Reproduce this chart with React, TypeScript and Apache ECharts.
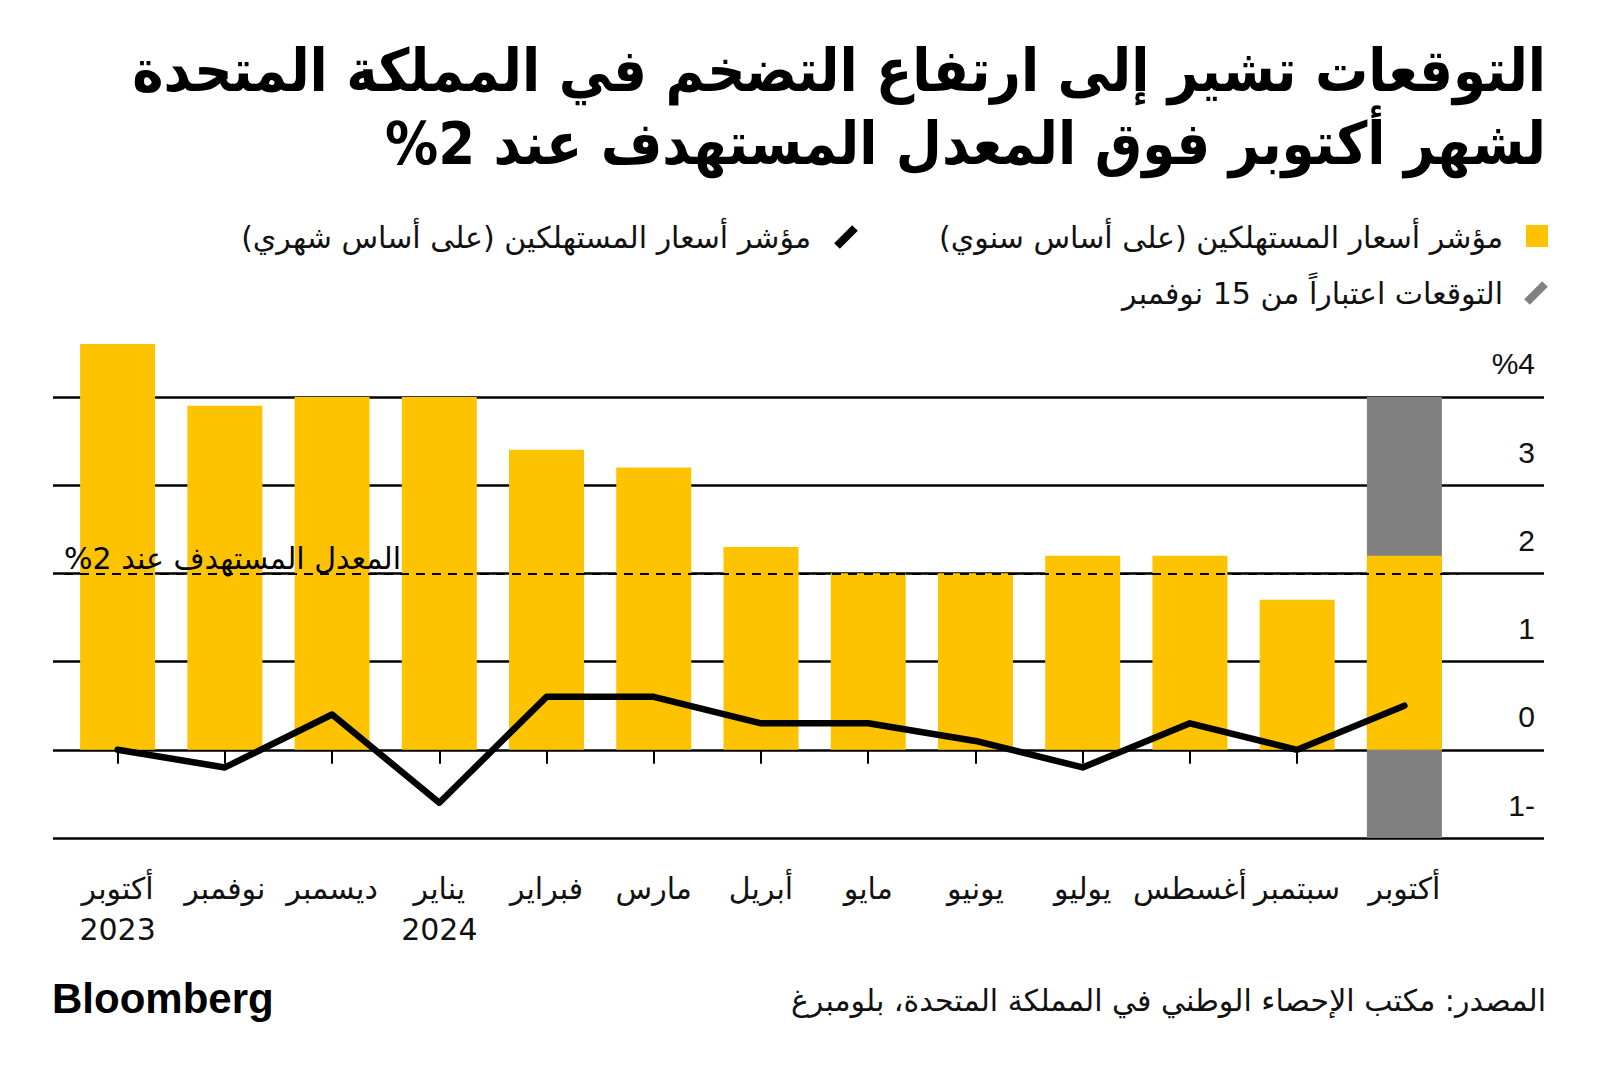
import React, { useEffect, useRef } from "react";
import * as echarts from "echarts";

const RLE = "\u202B";
const PDF = "\u202C";
const rtl = (s: string) => RLE + s + PDF;

const titleLines = [
  "التوقعات تشير إلى ارتفاع التضخم في المملكة المتحدة",
  "لشهر أكتوبر فوق المعدل المستهدف عند 2%",
];
const legendYoY = "مؤشر أسعار المستهلكين (على أساس سنوي)";
const legendMoM = "مؤشر أسعار المستهلكين (على أساس شهري)";
const legendForecast = "التوقعات اعتباراً من 15 نوفمبر";
const targetLabel = "المعدل المستهدف عند 2%";
const sourceText = "المصدر: مكتب الإحصاء الوطني في المملكة المتحدة، بلومبرغ";

const months = [
  "أكتوبر\n2023",
  "نوفمبر",
  "ديسمبر",
  "يناير\n2024",
  "فبراير",
  "مارس",
  "أبريل",
  "مايو",
  "يونيو",
  "يوليو",
  "أغسطس",
  "سبتمبر",
  "أكتوبر",
];
const cpiYoY = [4.6, 3.9, 4.0, 4.0, 3.4, 3.2, 2.3, 2.0, 2.0, 2.2, 2.2, 1.7, 2.2];
const cpiMoM = [0.0, -0.2, 0.4, -0.6, 0.6, 0.6, 0.3, 0.3, 0.1, -0.2, 0.3, 0.0, 0.5];
const forecastLow = [null, null, null, null, null, null, null, null, null, null, null, null, -1];
const forecastHigh = [null, null, null, null, null, null, null, null, null, null, null, null, 4];
const yMin = -1;
const yMax = 4.6;
const targetRate = 2;

const YELLOW = "#FDC300";
const GRAY = "#808080";
const AR_FONT = "'DejaVu Sans', sans-serif";
const TITLE_FONT = "'DejaVu Sans Condensed', 'DejaVu Sans', sans-serif";
const NUM_FONT = "'Liberation Sans', Arial, sans-serif";

export default function App() {
  const ref = useRef<HTMLDivElement>(null);
  useEffect(() => {
    if (!ref.current) return;
    const chart = echarts.init(ref.current, null, { renderer: "svg" });
    const option: any = {
      animation: false,
      backgroundColor: "#ffffff",
      grid: [
        { left: 64, right: 142, top: 344, bottom: 237 },
        { left: 53, right: 56, top: 344, bottom: 237 },
      ],
      xAxis: [
        {
          type: "category",
          gridIndex: 0,
          data: months,
          boundaryGap: true,
          axisLine: { show: false },
          axisTick: {
            show: true,
            alignWithLabel: true,
            length: 14,
            lineStyle: { color: "#000", width: 2 },
          },
          axisLabel: {
            color: "#111",
            fontSize: 30,
            lineHeight: 41,
            fontFamily: AR_FONT,
            margin: 30,
            interval: 0,
          },
        },
        { type: "value", gridIndex: 1, min: 0, max: 1, show: false },
      ],
      yAxis: [
        { type: "value", gridIndex: 0, min: yMin, max: yMax, show: false },
        {
          type: "value",
          gridIndex: 1,
          position: "right",
          min: yMin,
          max: yMax,
          interval: 1,
          axisLine: { show: false },
          axisTick: { show: false },
          splitLine: {
            show: true,
            showMaxLine: false,
            lineStyle: { color: "#000", width: 2.5 },
          },
          axisLabel: {
            inside: true,
            showMaxLabel: false,
            margin: 9,
            align: "right",
            verticalAlign: "bottom",
            lineHeight: 30,
            padding: [0, 0, 18, 0],
            fontSize: 30,
            fontFamily: NUM_FONT,
            color: "#111",
            formatter: (v: number) => {
              if (Math.abs(v - Math.round(v)) > 1e-6) return "";
              if (v === 4) return "%4";
              if (v < 0) return Math.abs(v) + "-";
              return String(v);
            },
          },
        },
      ],
      series: [
        {
          type: "bar",
          name: "forecastLow",
          xAxisIndex: 0,
          yAxisIndex: 0,
          data: forecastLow,
          barWidth: 75,
          barGap: "-100%",
          itemStyle: { color: GRAY },
          z: 1,
        },
        {
          type: "bar",
          name: "forecastHigh",
          xAxisIndex: 0,
          yAxisIndex: 0,
          data: forecastHigh,
          barWidth: 75,
          barGap: "-100%",
          itemStyle: { color: GRAY },
          z: 1,
        },
        {
          type: "bar",
          name: "yoy",
          xAxisIndex: 0,
          yAxisIndex: 0,
          data: cpiYoY,
          barWidth: 75,
          barGap: "-100%",
          itemStyle: { color: YELLOW },
          z: 2,
          markLine: {
            silent: true,
            symbol: "none",
            lineStyle: { color: "#000", width: 2, type: [9, 7] },
            label: {
              show: true,
              position: "insideStartTop",
              distance: [0, 0],
              formatter: rtl(targetLabel),
              fontSize: 30,
              fontFamily: AR_FONT,
              color: "#000",
            },
            data: [{ yAxis: targetRate }],
            z: 5,
          },
        },
        {
          type: "line",
          name: "mom",
          xAxisIndex: 0,
          yAxisIndex: 0,
          data: cpiMoM,
          showSymbol: false,
          symbol: "none",
          lineStyle: { color: "#000", width: 6.5, cap: "round", join: "round" },
          z: 4,
        },
      ],
      graphic: [
        {
          type: "text",
          right: 54,
          top: 41,
          style: {
            text: rtl(titleLines[0]),
            font: `bold 59px ${TITLE_FONT}`,
            fill: "#000",
          },
        },
        {
          type: "text",
          right: 54,
          top: 114,
          style: {
            text: rtl(titleLines[1]),
            font: `bold 59px ${TITLE_FONT}`,
            fill: "#000",
          },
        },
        { type: "rect", shape: { x: 1526, y: 225, width: 22, height: 22 }, style: { fill: YELLOW } },
        {
          type: "text",
          x: 1503,
          y: 237,
          style: {
            text: rtl(legendYoY),
            align: "right",
            verticalAlign: "middle",
            font: `30px ${AR_FONT}`,
            fill: "#111",
          },
        },
        {
          type: "line",
          shape: { x1: 837, y1: 246, x2: 855, y2: 228 },
          style: { stroke: "#000", lineWidth: 8 },
        },
        {
          type: "text",
          x: 811,
          y: 237,
          style: {
            text: rtl(legendMoM),
            align: "right",
            verticalAlign: "middle",
            font: `30px ${AR_FONT}`,
            fill: "#111",
          },
        },
        {
          type: "line",
          shape: { x1: 1527, y1: 302, x2: 1545, y2: 284 },
          style: { stroke: GRAY, lineWidth: 8 },
        },
        {
          type: "text",
          x: 1503,
          y: 293,
          style: {
            text: rtl(legendForecast),
            align: "right",
            verticalAlign: "middle",
            font: `30px ${AR_FONT}`,
            fill: "#111",
          },
        },
        {
          type: "text",
          x: 52,
          y: 998,
          style: {
            text: "Bloomberg",
            align: "left",
            verticalAlign: "middle",
            font: `bold 42px ${NUM_FONT}`,
            fill: "#000",
          },
        },
        {
          type: "text",
          x: 1546,
          y: 1000,
          style: {
            text: rtl(sourceText),
            align: "right",
            verticalAlign: "middle",
            font: `30px ${AR_FONT}`,
            fill: "#111",
          },
        },
      ],
    };
    chart.setOption(option);
    return () => chart.dispose();
  }, []);
  return <div ref={ref} style={{ width: 1600, height: 1075, margin: -8 }} />;
}
